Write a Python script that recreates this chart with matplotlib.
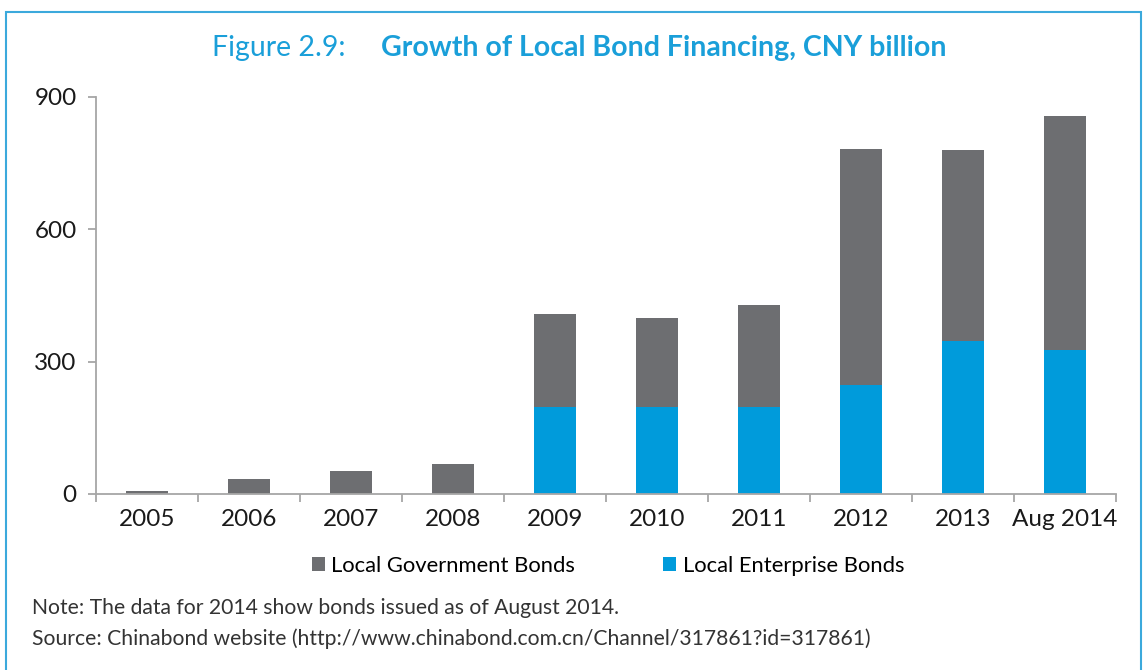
import numpy as np
import matplotlib.pyplot as plt
from matplotlib.patches import Rectangle

plt.rcParams['font.family'] = ['Lato', 'DejaVu Sans']

years = ['2005', '2006', '2007', '2008', '2009', '2010', '2011', '2012', '2013', 'Aug 2014']
gov_bonds = [6, 35, 53, 69, 210, 201, 231, 534, 432, 530]
enterprise_bonds = [0, 0, 0, 0, 197, 197, 197, 247, 347, 326]
yticks = [0, 300, 600, 900]

gray = '#6d6e71'
blue = '#009bdb'
title_blue = '#1a9fd9'
axis_gray = '#a6a6a6'

fig = plt.figure(figsize=(11.43, 6.7), dpi=100)
ax = fig.add_axes([0.084, 0.2627, 0.8924, 0.593])

x = np.arange(len(years))
ax.bar(x, enterprise_bonds, width=0.41, color=blue, label='Local Enterprise Bonds', zorder=2)
ax.bar(x, gov_bonds, width=0.41, bottom=enterprise_bonds, color=gray,
       label='Local Government Bonds', zorder=2)

ax.set_xlim(-0.5, len(years) - 0.5)
ax.set_ylim(0, 900)
ax.set_yticks(yticks)
ax.set_xticks(x)
ax.set_xticklabels(years)
ax.set_xticks(np.arange(len(years) + 1) - 0.5, minor=True)

for s in ['top', 'right']:
    ax.spines[s].set_visible(False)
for s in ['left', 'bottom']:
    ax.spines[s].set_color(axis_gray)
    ax.spines[s].set_linewidth(1.3)

ax.tick_params(axis='x', which='major', length=0, pad=11, labelsize=17.5, colors='#1a1a1a')
ax.tick_params(axis='x', which='minor', length=6, width=1.3, color=axis_gray)
ax.tick_params(axis='y', length=6, width=1.3, color=axis_gray, labelsize=17.5,
               labelcolor='#1a1a1a', pad=8)

# legend: government first
h, l = ax.get_legend_handles_labels()
fig.legend(h[::-1], l[::-1], loc='center', bbox_to_anchor=(0.532, 0.155), ncol=2,
           frameon=False, fontsize=15.8, handlelength=0.6, handleheight=0.6,
           handletextpad=0.3, columnspacing=4.0)

# title
fig.text(0.302, 0.928, 'Figure 2.9:', color=title_blue, fontsize=20.5, ha='right', va='center')
fig.text(0.333, 0.928, 'Growth of Local Bond Financing, CNY billion', color=title_blue,
         fontsize=20.5, fontweight='bold', ha='left', va='center')

fig.text(0.028, 0.092, 'Note: The data for 2014 show bonds issued as of August 2014.',
         fontsize=15.2, color='#333333', va='center')
fig.text(0.028, 0.047, 'Source: Chinabond website (http://www.chinabond.com.cn/Channel/317861?id=317861)',
         fontsize=15.2, color='#333333', va='center')

# frame around the figure
fig.add_artist(Rectangle((6 / 1143, -0.05), (1141 - 6) / 1143, 1.05 - 12 / 670,
                         transform=fig.transFigure, fill=False, edgecolor='#3ba9dc',
                         linewidth=1.5, clip_on=False))

fig.savefig('out.png', dpi=100)
